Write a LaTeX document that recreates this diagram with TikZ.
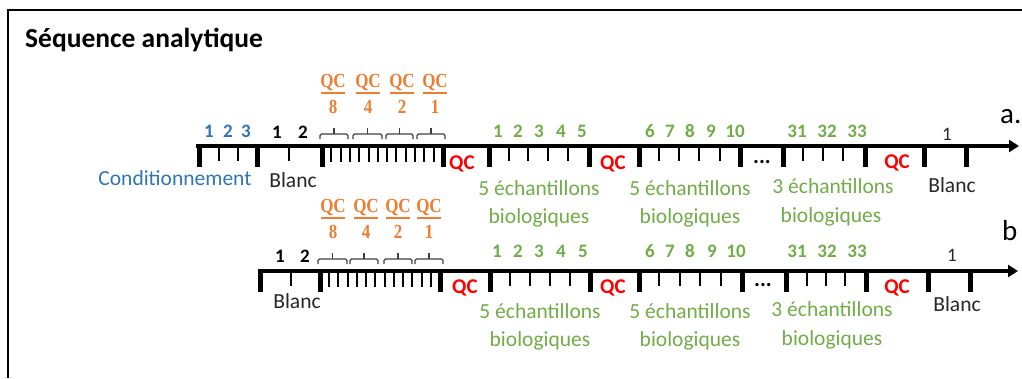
\documentclass[tikz,border=0pt]{standalone}
\usepackage{fontspec}
\setmainfont{Carlito}
\newfontfamily\fracfont[FakeStretch=0.85]{Liberation Serif}
\usetikzlibrary{arrows.meta}
\definecolor{cblue}{HTML}{2E75B6}
\definecolor{cgreen}{HTML}{70AD47}
\definecolor{corange}{HTML}{ED7D31}
\definecolor{cred}{HTML}{FF0000}
\definecolor{cdark}{HTML}{262626}
\begin{document}
\begin{tikzpicture}[x=1pt,y=-1pt,
  axisline/.style={line width=4pt,-{Triangle[length=10pt,width=12pt]}},
  bigtick/.style={line width=5pt},
  thintick/.style={line width=2pt},
  num/.style={font=\fontsize{19}{22}\selectfont\bfseries,anchor=base,inner sep=0pt},
  numreg/.style={font=\fontsize{19}{22}\selectfont,anchor=base,inner sep=0pt,text=cdark},
  lbl/.style={font=\fontsize{21.5}{25}\selectfont,anchor=base,inner sep=0pt},
  qcred/.style={font=\fontsize{21}{25}\selectfont\bfseries,text=cred,anchor=base,inner sep=0pt},
  fracqc/.style={font=\fracfont\fontsize{20}{22}\selectfont\bfseries,text=corange,anchor=base,inner sep=0pt},
  fracbar/.style={draw=corange,line width=1.5pt},
  bracket/.style={draw=black!75,line width=1.2pt,rounded corners=1.5pt},
  dots/.style={font=\fontsize{22}{25}\selectfont\bfseries,anchor=base,inner sep=0pt},
  letter/.style={font=\fontsize{29}{32}\selectfont,anchor=base west,inner sep=0pt}
]
\useasboundingbox (0,0) rectangle (1022,378);
% frame
\draw[line width=2pt] (8,378) -- (8,10) -- (1022,10);
\node[font=\fontsize{27.5}{30}\selectfont\bfseries,anchor=base west,inner sep=0pt] (title) at (25,47) {Séquence analytique};

% ================= Row a =================
\foreach \x in {199,257,322,443,489,589,639,740,783,865,924,966}
  \draw[bigtick] (\x,144) -- (\x,167);
\foreach \x in {219,238,289,509,528,548,568,659,679,699,720,803,823,843}
  \draw[thintick] (\x,146) -- (\x,161);
\foreach \i in {1,...,12}
  \draw[thintick] ({322+\i*9.31},146) -- ++(0,16);
\draw[axisline] (196,146) -- (1019,146);
% numbers
\foreach \x/\n in {209/1,228/2,246/3}
  \node[num,text=cblue] (ac\n) at (\x,137) {\n};
\foreach \x/\n in {277/1,303/2}
  \node[num] (ab\n) at (\x,138) {\n};
\foreach \x/\n in {498/1,518/2,539/3,561/4,582/5,650/6,670/7,690/8,711/9,735/10,797/31,827/32,857/33}
  \node[num,text=cgreen] (as\n) at (\x,137) {\n};
\node[numreg] (ab3) at (947,140) {1};
% brackets and fractions
\foreach \a/\b/\m/\d in {320/348/333/8,353/382/368/4,386/413/402/2,417/445/435/1}{
  \draw[bracket] (\a,139) -- (\a,134) -- (\b,134) -- (\b,139);
  \draw[bracket] ({(\a+\b)/2},134) -- ({(\a+\b)/2},128);
  \node[fracqc] (aqc\d) at (\m,87) {QC};
  \draw[fracbar] (\m-12,93) -- (\m+12,93);
  \node[fracqc] (ad\d) at (\m,113) {\d};
}
% red QC
\node[qcred] (aq1) at (462,169) {QC};
\node[qcred] (aq2) at (613,169) {QC};
\node[qcred] (aq3) at (897,168) {QC};
\node[dots] (adots) at (762,163) {...};
% labels
\node[lbl,text=cblue] (acond) at (175,185) {Conditionnement};
\node[lbl,text=cdark] (ablanc1) at (293,187) {Blanc};
\node[lbl,text=cgreen] (ae1) at (539,195) {5 échantillons};
\node[lbl,text=cgreen] (abio1) at (539,223) {biologiques};
\node[lbl,text=cgreen] (ae2) at (690,195) {5 échantillons};
\node[lbl,text=cgreen] (abio2) at (690,223) {biologiques};
\node[lbl,text=cgreen] (ae3) at (833,193) {3 échantillons};
\node[lbl,text=cgreen] (abio3) at (831,222) {biologiques};
\node[lbl,text=cdark] (ablanc2) at (952,192) {Blanc};
\node[letter] (la) at (1000,123) {a.};

% ================= Row b =================
\foreach \x in {260,320,440,490,590,639,742,786,866,928,970}
  \draw[bigtick] (\x,269) -- (\x,292);
\foreach \x in {291,510,530,550,570,659,680,700,721,807,826,845}
  \draw[thintick] (\x,271) -- (\x,286);
\foreach \i in {1,...,12}
  \draw[thintick] ({320+\i*9.23},271) -- ++(0,16);
\draw[axisline] (258,271) -- (1018,271);
\foreach \x/\n in {280/1,305/2}
  \node[num] (bb\n) at (\x,262) {\n};
\foreach \x/\n in {497/1,518/2,539/3,561/4,583/5,650/6,670/7,690/8,712/9,736/10,797/31,827/32,857/33}
  \node[num,text=cgreen] (bs\n) at (\x,257) {\n};
\node[numreg] (bb3) at (952,261) {1};
\foreach \a/\b/\m/\d in {318/347/333/8,350/378/366/4,384/412/398/2,415/443/429/1}{
  \draw[bracket] (\a,264) -- (\a,259) -- (\b,259) -- (\b,264);
  \draw[bracket] ({(\a+\b)/2},259) -- ({(\a+\b)/2},253);
  \node[fracqc] (bqc\d) at (\m,212) {QC};
  \draw[fracbar] (\m-12,218) -- (\m+12,218);
  \node[fracqc] (bd\d) at (\m,238) {\d};
}
\node[qcred] (bq1) at (465,293) {QC};
\node[qcred] (bq2) at (613,293) {QC};
\node[qcred] (bq3) at (897,293) {QC};
\node[dots] (bdots) at (763,286) {...};
\node[lbl,text=cdark] (bblanc1) at (297,308) {Blanc};
\node[lbl,text=cgreen] (be1) at (540,318) {5 échantillons};
\node[lbl,text=cgreen] (bbio1) at (540,346) {biologiques};
\node[lbl,text=cgreen] (be2) at (690,318) {5 échantillons};
\node[lbl,text=cgreen] (bbio2) at (690,346) {biologiques};
\node[lbl,text=cgreen] (be3) at (832,316) {3 échantillons};
\node[lbl,text=cgreen] (bbio3) at (832,345) {biologiques};
\node[lbl,text=cdark] (bblanc2) at (957,311) {Blanc};
\node[letter] (lb) at (1002,240) {b};
\end{tikzpicture}
\end{document}
